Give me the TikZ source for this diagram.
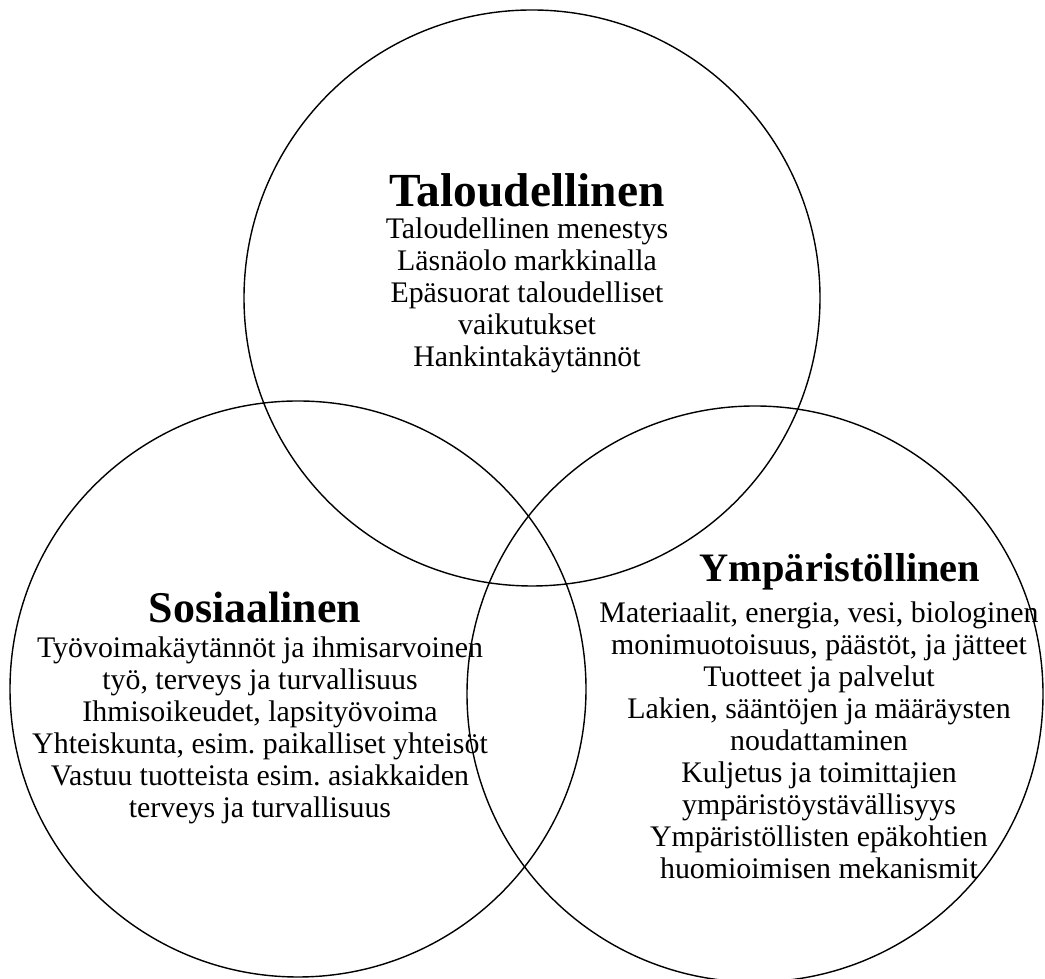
\documentclass[tikz,border=0pt]{standalone}
\usepackage{fontspec}
\setmainfont{Liberation Serif}
\usetikzlibrary{positioning}
\frenchspacing

\begin{document}
\begin{tikzpicture}[
            pillar/.style={
                circle, draw=black, line width=0.8pt,
                minimum size=11.52cm, inner sep=0pt
            },
            heading/.style={
                font=\fontsize{25}{28}\selectfont\bfseries, inner sep=0pt
            },
            itemlist/.style={
                align=center, inner sep=0pt,
                font=\fontsize{17}{18.2}\selectfont
            }
        ]
            \useasboundingbox (0,0) rectangle (20.9,19.58);
            % the three circles
            \node[pillar] (econ) at (10.64,13.62) {};
            \node[pillar] (soc) at (5.96,5.80) {};
            \node[pillar] (env) at (15.10,5.70) {};
            % economic
            \node[heading, font=\fontsize{27}{30}\selectfont\bfseries] (econhead) at (10.54,15.78) {Taloudellinen};
            \node[itemlist] (econtext) at (10.54,13.68) {%
                Taloudellinen menestys\\
                Läsnäolo markkinalla\\
                Epäsuorat taloudelliset\\
                vaikutukset\\
                Hankintakäytännöt%
            };
            % social
            \node[heading] (sochead) at (5.10,7.44) {Sosiaalinen};
            \node[itemlist] (soctext) at (5.20,4.98) {%
                Työvoimakäytännöt ja ihmisarvoinen\\
                työ, terveys ja turvallisuus\\
                Ihmisoikeudet, lapsityövoima\\
                Yhteiskunta, esim. paikalliset yhteisöt\\
                Vastuu tuotteista esim. asiakkaiden\\
                terveys ja turvallisuus%
            };
            % environmental
            \node[heading, font=\fontsize{23}{26}\selectfont\bfseries] (envhead) at (16.80,8.14) {Ympäristöllinen};
            \node[itemlist] (envtext) at (16.38,4.78) {%
                Materiaalit, energia, vesi, biologinen\\
                monimuotoisuus, päästöt, ja jätteet\\
                Tuotteet ja palvelut\\
                Lakien, sääntöjen ja määräysten\\
                noudattaminen\\
                Kuljetus ja toimittajien\\
                ympäristöystävällisyys\\
                Ympäristöllisten epäkohtien\\
                huomioimisen mekanismit%
            };
        \end{tikzpicture}
\end{document}
